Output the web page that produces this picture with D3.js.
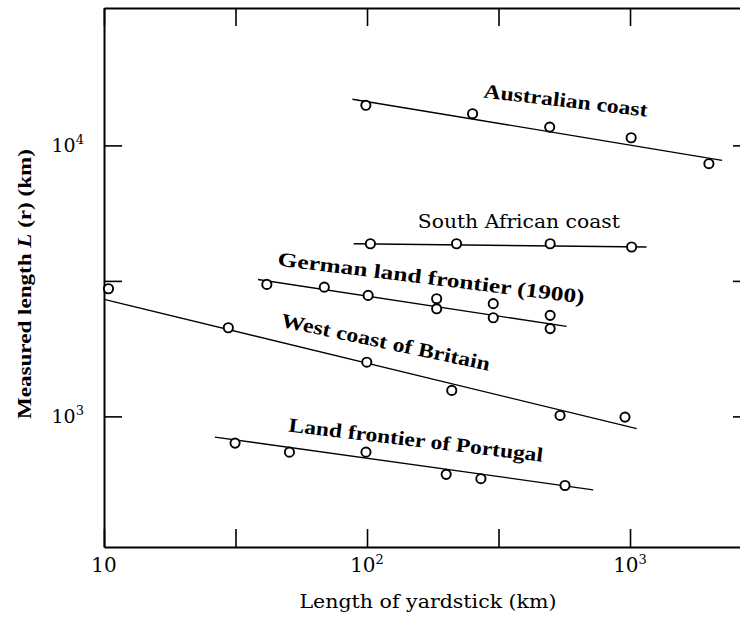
<!DOCTYPE html>
<html>
<head>
<meta charset="utf-8">
<script src="https://cdn.jsdelivr.net/npm/d3@7"></script>
<style>
body { margin: 0; background: #fff; }
text { fill: #000; }
</style>
</head>
<body>
<script>
const width = 740;
const height = 618;
const plotLeft = 104, plotTop = 8, plotRight = 751, plotBottom = 547;

// yardstick (km) vs measured length (km)
const australiaX = [99, 252, 495, 1010, 1995];
const australiaY = [14060, 13090, 11680, 10670, 8560];
const australiaFitX = [88, 2240];
const australiaFitY = [14800, 8810];

const southAfricaX = [103, 219, 497, 1014];
const southAfricaY = [4335, 4335, 4335, 4217];
const southAfricaFitX = [89, 1156];
const southAfricaFitY = [4335, 4217];

const germanyX = [41.6, 68.8, 101, 184, 184, 302, 302, 497, 497];
const germanyY = [3069, 2999, 2796, 2718, 2495, 2606, 2312, 2360, 2108];
const germanyFitX = [38.5, 574];
const germanyFitY = [3200, 2148];

const britainX = [10.4, 29.7, 99.8, 210, 542, 957];
const britainY = [2958, 2124, 1585, 1247, 1008, 994];
const britainFitX = [10.1, 1061];
const britainFitY = [2697, 901];

const portugalX = [31.5, 50.7, 99.1, 200, 271, 566];
const portugalY = [797, 738, 738, 611, 589, 556];
const portugalFitX = [26.4, 724];
const portugalFitY = [839, 536];

const xTickVals = [10, 31.62, 100, 316.2, 1000];
const yTickVals = [1000, 3162, 10000];
const xTickLabels = [[10, "10", ""], [100, "10", "2"], [1000, "10", "3"]];
const yTickLabels = [[1000, "10", "3"], [10000, "10", "4"]];

const series = [
    {name: "Australian coast", xs: australiaX, ys: australiaY, fx: australiaFitX, fy: australiaFitY},
    {name: "South African coast", xs: southAfricaX, ys: southAfricaY, fx: southAfricaFitX, fy: southAfricaFitY},
    {name: "German land frontier (1900)", xs: germanyX, ys: germanyY, fx: germanyFitX, fy: germanyFitY},
    {name: "West coast of Britain", xs: britainX, ys: britainY, fx: britainFitX, fy: britainFitY},
    {name: "Land frontier of Portugal", xs: portugalX, ys: portugalY, fx: portugalFitX, fy: portugalFitY}
];

// label placement: baseline start in data units, angle, length
const labelLayout = {
    "Australian coast": {x: 276, y: 15030, angle: 6.7, len: 165, bold: true},
    "South African coast": {x: 156, y: 4943, angle: 0, len: 202, bold: false},
    "German land frontier (1900)": {x: 45.5, y: 3606, angle: 7.1, len: 309, bold: true},
    "West coast of Britain": {x: 46.7, y: 2148, angle: 12, len: 213, bold: true},
    "Land frontier of Portugal": {x: 50.1, y: 880, angle: 6.8, len: 256, bold: true}
};

const x = d3.scaleLog().domain([10, Math.pow(10, 3.46)]).range([plotLeft, plotRight]);
const y = d3.scaleLog().domain([Math.pow(10, 2.518), Math.pow(10, 4.507)]).range([plotBottom, plotTop]);

const svg = d3.select("body").append("svg")
    .attr("width", width)
    .attr("height", height);

function styleAxis(g){
    g.select(".domain").attr("stroke-width", 2);
    g.selectAll(".tick line").attr("stroke-width", 1.6);
}

svg.append("g").attr("transform", "translate(0," + plotBottom + ")")
    .call(d3.axisBottom(x).tickValues(xTickVals).tickSize(-18).tickSizeOuter(0).tickFormat(""))
    .call(styleAxis);
svg.append("g").attr("transform", "translate(0," + plotTop + ")")
    .call(d3.axisTop(x).tickValues(xTickVals).tickSize(-18).tickSizeOuter(0).tickFormat(""))
    .call(styleAxis);
svg.append("g").attr("transform", "translate(" + plotLeft + ",0)")
    .call(d3.axisLeft(y).tickValues(yTickVals).tickSize(-18).tickSizeOuter(0).tickFormat(""))
    .call(styleAxis);
svg.append("g").attr("transform", "translate(" + plotRight + ",0)")
    .call(d3.axisRight(y).tickValues(yTickVals).tickSize(-18).tickSizeOuter(0).tickFormat(""))
    .call(styleAxis);

const serif = "'DejaVu Serif', serif";
const boldSerif = "'Liberation Serif', 'Times New Roman', serif";

// tick labels with superscripts
let xl = svg.append("g").selectAll("text")
    .data(xTickLabels)
    .enter().append("text")
    .attr("x", function(d){ return x(d[0]); })
    .attr("y", 572)
    .attr("text-anchor", "middle")
    .style("font-family", serif)
    .style("font-size", "20px");
xl.append("tspan").text(function(d){ return d[1]; });
xl.append("tspan").attr("dy", -8).style("font-size", "13px").text(function(d){ return d[2]; });

let yl = svg.append("g").selectAll("text")
    .data(yTickLabels)
    .enter().append("text")
    .attr("x", 84)
    .attr("y", function(d){ return y(d[0]) + 7; })
    .attr("text-anchor", "end")
    .style("font-family", serif)
    .style("font-size", "19px");
yl.append("tspan").text(function(d){ return d[1]; });
yl.append("tspan").attr("dy", -8).style("font-size", "13px").text(function(d){ return d[2]; });

// fitted lines
svg.append("g").selectAll("line")
    .data(series)
    .enter().append("line")
    .attr("x1", function(d){ return x(d.fx[0]); })
    .attr("y1", function(d){ return y(d.fy[0]); })
    .attr("x2", function(d){ return x(d.fx[1]); })
    .attr("y2", function(d){ return y(d.fy[1]); })
    .attr("stroke", "#000")
    .attr("stroke-width", 1.3);

// markers
for(let s of series){
    let pts = s.xs.map(function(v, i){ return {x: v, y: s.ys[i]}; });
    svg.append("g").selectAll("circle")
        .data(pts)
        .enter().append("circle")
        .attr("cx", function(d){ return x(d.x); })
        .attr("cy", function(d){ return y(d.y); })
        .attr("r", 4.6)
        .attr("fill", "#fff")
        .attr("stroke", "#000")
        .attr("stroke-width", 1.9);
}

// series labels
svg.append("g").selectAll("text")
    .data(series)
    .enter().append("text")
    .attr("transform", function(d){
        let l = labelLayout[d.name];
        return "translate(" + x(l.x) + "," + y(l.y) + ") rotate(" + l.angle + ")";
    })
    .attr("textLength", function(d){ return labelLayout[d.name].len; })
    .attr("lengthAdjust", "spacingAndGlyphs")
    .style("font-family", function(d){ return labelLayout[d.name].bold ? boldSerif : serif; })
    .style("font-weight", function(d){ return labelLayout[d.name].bold ? "bold" : "normal"; })
    .style("font-size", function(d){ return labelLayout[d.name].bold ? "20px" : "19px"; })
    .text(function(d){ return d.name; });

// axis titles
svg.append("text")
    .attr("x", 428)
    .attr("y", 608)
    .attr("text-anchor", "middle")
    .attr("textLength", 257)
    .attr("lengthAdjust", "spacingAndGlyphs")
    .style("font-family", serif)
    .style("font-size", "19px")
    .text("Length of yardstick (km)");

let yt = svg.append("text")
    .attr("transform", "translate(31,284) rotate(-90)")
    .attr("text-anchor", "middle")
    .attr("textLength", 270)
    .attr("lengthAdjust", "spacingAndGlyphs")
    .style("font-family", boldSerif)
    .style("font-weight", "bold")
    .style("font-size", "19px");
yt.append("tspan").text("Measured length ");
yt.append("tspan").style("font-style", "italic").text("L");
yt.append("tspan").text(" (r) (km)");
</script>
</body>
</html>
